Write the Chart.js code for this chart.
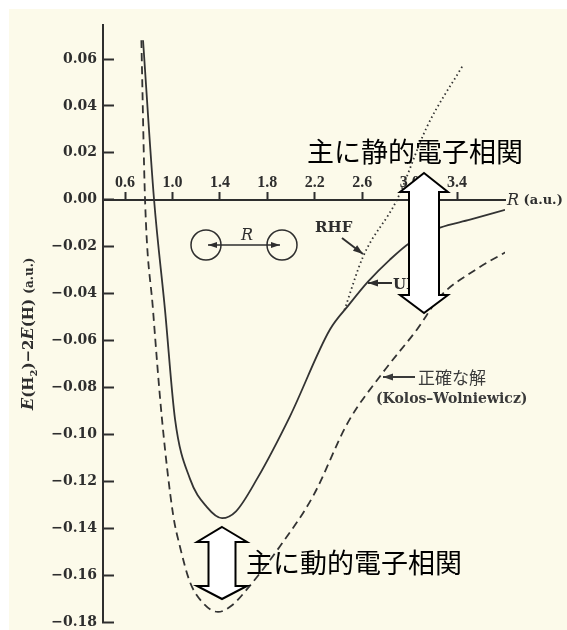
<!DOCTYPE html>
<html>
<head>
<meta charset="utf-8">
<script src="https://cdn.jsdelivr.net/npm/chart.js@4.4.1/dist/chart.umd.min.js"></script>
<style>
  html, body { margin: 0; padding: 0; background: #ffffff; }
  canvas { display: block; }
</style>
</head>
<body>
<canvas id="c" width="567" height="630"></canvas>
<script>
// Tick positions
const xTicks = [0.6, 1.0, 1.4, 1.8, 2.2, 2.6, 3.0, 3.4];
const yTicks = [-0.18, -0.16, -0.14, -0.12, -0.10, -0.08, -0.06, -0.04, -0.02, 0.00, 0.02, 0.04, 0.06];

// Exact solution (Kolos-Wolniewicz): R (a.u.) and E(H2)-2E(H) (a.u.)
const exactR = [0.738, 0.769, 0.836, 0.912, 1.005, 1.064, 1.148, 1.26, 1.384, 1.50, 1.629, 1.907, 2.185, 2.480, 2.775, 3.062, 3.256, 3.55, 3.846];
const exactE = [0.068, 0.000, -0.0468, -0.0936, -0.134, -0.148, -0.163, -0.172, -0.1757, -0.173, -0.166, -0.1477, -0.1264, -0.0949, -0.0736, -0.0553, -0.0413, -0.030, -0.0213];

// UHF
const uhfR = [0.752, 0.845, 0.937, 1.022, 1.148, 1.291, 1.418, 1.536, 1.713, 1.991, 2.328, 2.489, 2.649, 2.834, 3.003, 3.256, 3.509, 3.804];
const uhfE = [0.068, 0.000, -0.0468, -0.0936, -0.119, -0.131, -0.1357, -0.1328, -0.119, -0.0923, -0.0553, -0.0447, -0.0349, -0.0255, -0.0183, -0.0119, -0.0085, -0.0043];

// RHF branch after it leaves the UHF curve
const rhfR = [2.45, 2.607, 2.893, 3.146, 3.45];
const rhfE = [-0.047, -0.0243, 0.0, 0.0311, 0.0574];

const pts = (xs, ys) => xs.map((x, i) => ({ x: x, y: ys[i] }));

const INK = '#2e2e2e';
const PAPER = '#fcfaea';

function fmtY(v) {
  if (Math.abs(v) < 1e-9) return '0.00';
  return (v < 0 ? '\u2212' : '') + Math.abs(v).toFixed(2);
}

function arrowHead(ctx, x0, y0, x1, y1, len, half) {
  const a = Math.atan2(y1 - y0, x1 - x0);
  ctx.beginPath();
  ctx.moveTo(x1, y1);
  ctx.lineTo(x1 - len * Math.cos(a) + half * Math.sin(a), y1 - len * Math.sin(a) - half * Math.cos(a));
  ctx.lineTo(x1 - len * Math.cos(a) - half * Math.sin(a), y1 - len * Math.sin(a) + half * Math.cos(a));
  ctx.closePath();
  ctx.fill();
}

function pointer(ctx, x0, y0, x1, y1) {
  ctx.beginPath();
  ctx.moveTo(x0, y0);
  ctx.lineTo(x1, y1);
  ctx.stroke();
  arrowHead(ctx, x0, y0, x1, y1, 10, 3.5);
}

function blockArrow(ctx, cx, tipTop, baseTop, baseBot, tipBot, head, body) {
  ctx.beginPath();
  ctx.moveTo(cx, tipTop);
  ctx.lineTo(cx + head, baseTop);
  ctx.lineTo(cx + body, baseTop);
  ctx.lineTo(cx + body, baseBot);
  ctx.lineTo(cx + head, baseBot);
  ctx.lineTo(cx, tipBot);
  ctx.lineTo(cx - head, baseBot);
  ctx.lineTo(cx - body, baseBot);
  ctx.lineTo(cx - body, baseTop);
  ctx.lineTo(cx - head, baseTop);
  ctx.closePath();
  ctx.fillStyle = '#ffffff';
  ctx.fill();
  ctx.lineWidth = 2;
  ctx.lineJoin = 'miter';
  ctx.strokeStyle = '#000000';
  ctx.stroke();
}

function runText(ctx, parts, x, y) {
  let cx = x;
  parts.forEach(p => {
    ctx.font = p.font;
    ctx.fillText(p.t, cx, y + (p.dy || 0));
    cx += ctx.measureText(p.t).width;
  });
}

const decorations = {
  id: 'decorations',
  beforeDraw(chart) {
    const ctx = chart.ctx;
    ctx.save();
    ctx.fillStyle = '#ffffff';
    ctx.fillRect(0, 0, chart.width, chart.height);
    ctx.fillStyle = PAPER;
    ctx.fillRect(9, 9, chart.width - 9, chart.height - 9);
    ctx.restore();
  },
  afterDraw(chart) {
    const ctx = chart.ctx;
    ctx.save();
    ctx.fillStyle = INK;
    ctx.strokeStyle = INK;
    ctx.textBaseline = 'middle';
    ctx.textAlign = 'left';

    // y axis title, rotated
    ctx.save();
    ctx.translate(33, 410);
    ctx.rotate(-Math.PI / 2);
    ctx.textBaseline = 'alphabetic';
    runText(ctx, [
      { t: 'E', font: 'italic bold 16px "DejaVu Serif"' },
      { t: '(H', font: 'bold 15px "DejaVu Serif"' },
      { t: '2', font: 'bold 10px "DejaVu Serif"', dy: 4 },
      { t: ')\u22122', font: 'bold 15px "DejaVu Serif"' },
      { t: 'E', font: 'italic bold 16px "DejaVu Serif"' },
      { t: '(H) ', font: 'bold 15px "DejaVu Serif"' },
      { t: '(a.u.)', font: 'bold 12px "DejaVu Serif"' }
    ], 0, 0);
    ctx.restore();

    // x axis title
    runText(ctx, [
      { t: 'R', font: 'italic 16px "DejaVu Serif"' },
      { t: ' (a.u.)', font: 'bold 13px "DejaVu Serif"' }
    ], 507, 201);

    // molecule sketch: two atoms separated by R
    ctx.lineWidth = 1.5;
    ctx.beginPath(); ctx.arc(206, 245, 15, 0, Math.PI * 2); ctx.stroke();
    ctx.beginPath(); ctx.arc(282, 245, 15, 0, Math.PI * 2); ctx.stroke();
    ctx.lineWidth = 1.3;
    ctx.beginPath(); ctx.moveTo(208, 245); ctx.lineTo(280, 245); ctx.stroke();
    arrowHead(ctx, 240, 245, 208, 245, 9, 3);
    arrowHead(ctx, 240, 245, 280, 245, 9, 3);
    ctx.font = 'italic 16px "DejaVu Serif"';
    ctx.textAlign = 'center';
    ctx.fillText('R', 247, 236);
    ctx.textAlign = 'left';

    // curve labels
    ctx.lineWidth = 2;
    ctx.font = 'bold 15px "DejaVu Serif"';
    ctx.fillText('RHF', 315, 228);
    pointer(ctx, 342, 238, 363, 254);

    ctx.fillText('UHF', 393, 285);
    pointer(ctx, 392, 283, 368, 283);

    ctx.fillStyle = '#3a3a3a';
    ctx.font = '17px "Noto Sans CJK JP"';
    ctx.fillText('正確な解', 418, 378);
    ctx.strokeStyle = '#3a3a3a';
    pointer(ctx, 415, 377, 383, 377);
    ctx.font = 'bold 14px "DejaVu Serif"';
    ctx.fillText('(Kolos\u2013Wolniewicz)', 376, 399);

    // block arrows marking the correlation gaps
    blockArrow(ctx, 424, 173, 192, 295, 313, 24, 15);
    blockArrow(ctx, 222, 527, 542, 586, 599, 25, 13.5);

    ctx.fillStyle = '#000000';
    ctx.font = '27px "Noto Sans CJK JP"';
    ctx.textAlign = 'center';
    ctx.fillText('主に静的電子相関', 415, 152);
    ctx.fillText('主に動的電子相関', 354, 563);
    ctx.restore();
  }
};

new Chart(document.getElementById('c'), {
  type: 'line',
  data: {
    datasets: [
      {
        label: '正確な解 (Kolos-Wolniewicz)',
        data: pts(exactR, exactE),
        borderColor: '#333333',
        borderWidth: 1.8,
        borderDash: [8, 5],
        pointRadius: 0,
        fill: false
      },
      {
        label: 'UHF',
        data: pts(uhfR, uhfE),
        borderColor: '#333333',
        borderWidth: 1.8,
        pointRadius: 0,
        fill: false
      },
      {
        label: 'RHF',
        data: pts(rhfR, rhfE),
        borderColor: '#333333',
        borderWidth: 1.8,
        borderDash: [1.5, 3],
        pointRadius: 0,
        fill: false
      }
    ]
  },
  options: {
    responsive: false,
    animation: false,
    devicePixelRatio: 1,
    layout: { padding: { left: 10, top: 25, right: 62, bottom: 8 } },
    elements: { line: { cubicInterpolationMode: 'monotone' } },
    plugins: { legend: { display: false }, tooltip: { enabled: false } },
    scales: {
      x: {
        type: 'linear',
        position: { y: 0 },
        min: 0.4145,
        max: 3.804,
        afterBuildTicks: s => { s.ticks = xTicks.map(v => ({ value: v })); },
        grid: { drawOnChartArea: false, drawTicks: true, tickLength: -9, tickWidth: 2, tickColor: INK },
        border: { display: true, width: 2, color: INK },
        ticks: {
          padding: -18,
          autoSkip: false,
          maxRotation: 0,
          color: INK,
          font: { family: 'Liberation Serif', weight: 'bold', size: 16 },
          callback: v => Number(v).toFixed(1)
        }
      },
      y: {
        type: 'linear',
        position: 'left',
        min: -0.18,
        max: 0.0745,
        afterBuildTicks: s => { s.ticks = yTicks.map(v => ({ value: v })); },
        afterFit: s => { s.width = 93; s.paddingTop = 0; s.paddingBottom = 0; },
        grid: { drawOnChartArea: false, drawTicks: true, tickLength: -11, tickWidth: 2, tickColor: INK },
        border: { display: true, width: 2, color: INK },
        ticks: {
          padding: 17,
          autoSkip: false,
          color: INK,
          font: { family: 'DejaVu Serif', weight: 'bold', size: 14 },
          callback: v => fmtY(v)
        }
      }
    }
  },
  plugins: [decorations]
});
</script>
</body>
</html>
